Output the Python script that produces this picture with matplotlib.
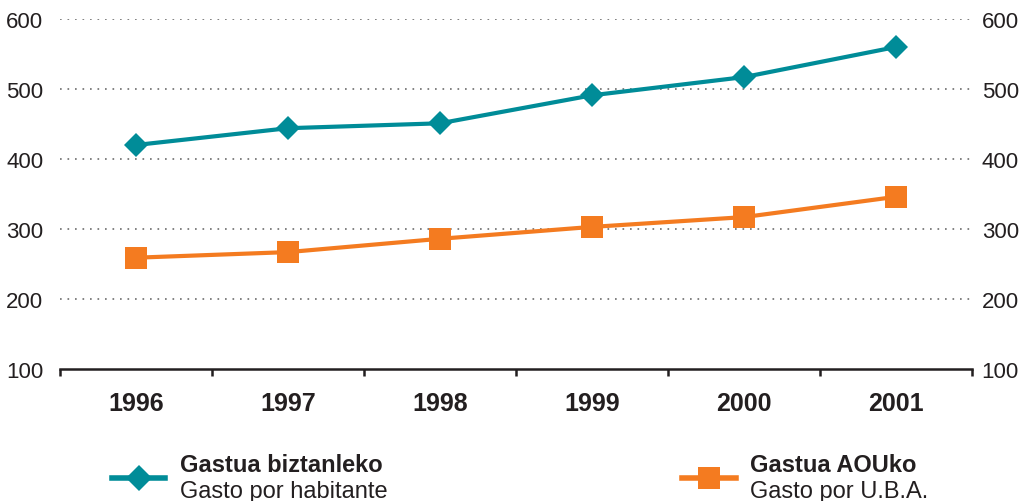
import matplotlib
matplotlib.use("Agg")
import matplotlib.pyplot as plt

years = ["1996", "1997", "1998", "1999", "2000", "2001"]
per_habitant = [420, 444, 451, 491, 517, 560]
per_uba = [259, 267, 286, 303, 317, 346]
yticks = [100, 200, 300, 400, 500, 600]

TEAL = "#008c98"
ORANGE = "#f47b20"
TXT = "#231f20"

plt.rcParams["font.family"] = ["Liberation Sans", "DejaVu Sans"]
plt.rcParams["lines.scale_dashes"] = False

fig = plt.figure(figsize=(10.23, 5.02), dpi=100, facecolor="white")
ax = fig.add_axes([60 / 1023, 1 - 370 / 502, 912 / 1023, 350 / 502])

x = list(range(len(years)))
ax.plot(x, per_habitant, color=TEAL, lw=3, marker="D", ms=12.5, mew=0, zorder=3)
ax.plot(x, per_uba, color=ORANGE, lw=3, marker="s", ms=16.5, mew=0, zorder=3)

ax.set_xlim(-0.5, len(years) - 0.5)
ax.set_ylim(100, 600)
ax.set_yticks(yticks)
ax.set_yticklabels([str(v) for v in yticks])
for v in yticks[1:]:
    ax.axhline(v, color="#777777", lw=1.3, ls=(0, (1.2, 4.2)), zorder=1)

for s in ("top", "left", "right"):
    ax.spines[s].set_visible(False)
ax.spines["bottom"].set_linewidth(1.8)
ax.spines["bottom"].set_color(TXT)

# category boundary ticks on the x axis
ax.set_xticks([i - 0.5 for i in range(len(years) + 1)])
ax.set_xticklabels([])
ax.set_xticks(x, minor=True)
ax.set_xticklabels(years, minor=True, fontsize=18, fontweight="bold", color=TXT)
ax.tick_params(axis="x", which="major", direction="out", length=5, width=1.8, color=TXT)
ax.tick_params(axis="x", which="minor", length=0, pad=16)
ax.tick_params(axis="y", left=False, length=0, labelsize=16, labelcolor=TXT, pad=12)

# right-hand copy of the value axis
ax2 = ax.twinx()
ax2.set_ylim(ax.get_ylim())
ax2.set_yticks(yticks)
ax2.set_yticklabels([str(v) for v in yticks])
ax2.tick_params(axis="y", right=False, length=0, labelsize=16, labelcolor=TXT, pad=7)
for s in ax2.spines.values():
    s.set_visible(False)

# legend drawn in pixel space
lg = fig.add_axes([0, 0, 1, 1], facecolor="none")
lg.set_xlim(0, 1023)
lg.set_ylim(502, 0)
lg.axis("off")
lg.plot([112, 165], [479, 479], color=TEAL, lw=4)
lg.plot([138.5], [479], color=TEAL, marker="D", ms=13, mew=0, ls="none")
lg.text(180, 466, "Gastua biztanleko", fontsize=17, fontweight="bold", color=TXT, va="center")
lg.text(180, 492, "Gasto por habitante", fontsize=17, color=TXT, va="center")
lg.plot([682, 736], [479, 479], color=ORANGE, lw=4)
lg.plot([709], [479], color=ORANGE, marker="s", ms=16.5, mew=0, ls="none")
lg.text(750, 466, "Gastua AOUko", fontsize=17, fontweight="bold", color=TXT, va="center")
lg.text(750, 492, "Gasto por U.B.A.", fontsize=17, color=TXT, va="center")

fig.savefig("out.png", dpi=100, facecolor="white")
